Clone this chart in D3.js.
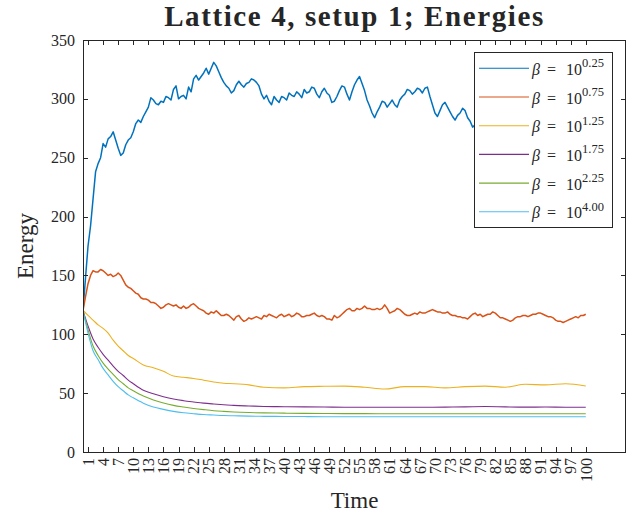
<!DOCTYPE html>
<html>
<head>
<meta charset="utf-8">
<script src="https://cdn.jsdelivr.net/npm/d3@7"></script>
<style>
  body { margin: 0; background: #fff; }
  text { font-family: "Liberation Serif", serif; fill: #262626; }
</style>
</head>
<body>
<svg class="svg1" width="639" height="514"></svg>
<script>
// tick labels
const xTicks = [1, 4, 7, 10, 13, 16, 19, 22, 25, 28, 31, 34, 37, 40, 43, 46, 49, 52, 55, 58, 61, 64, 67, 70, 73, 76, 79, 82, 85, 88, 91, 94, 97, 100];
const yTicks = [0, 50, 100, 150, 200, 250, 300, 350];

const seriesNames = ["0.25", "0.75", "1.25", "1.75", "2.25", "4.00"];
const colors = ["#0072BD", "#D95319", "#EDB120", "#7E2F8E", "#77AC30", "#4DBEEE"];

// noisy series, read every half time unit (0, 0.5, ... 100)
const timeFull = d3.range(0, 100.5, 0.5);
const beta025 = [
  120, 148, 175, 192, 215, 238, 245, 250, 262, 259, 266, 268, 272, 265, 258, 252, 254, 261, 265, 267,
  272, 279, 282, 280, 285, 289, 293, 301, 299, 296, 295, 298, 297, 302, 301, 299, 308, 311, 300, 302,
  303, 300, 310, 306, 317, 320, 316, 319, 322, 326, 321, 326, 331, 328, 323, 318, 314, 311, 309, 305,
  307, 312, 315, 312, 310, 313, 314, 317, 316, 314, 311, 304, 300, 303, 298, 295, 302, 299, 297, 302,
  301, 299, 305, 303, 302, 306, 304, 301, 308, 305, 306, 310, 309, 304, 301, 306, 309, 305, 303, 297,
  298, 302, 307, 311, 310, 304, 299, 306, 312, 316, 319, 313, 307, 299, 294, 288, 284, 289, 293, 298,
  297, 293, 296, 299, 295, 293, 299, 302, 304, 308, 307, 304, 306, 309, 308, 305, 309, 310, 302, 295,
  288, 285, 290, 295, 297, 293, 289, 285, 282, 286, 288, 292, 290, 284, 281, 276, 278, 282, 280, 277,
  276, 280, 283, 281, 279, 283, 285, 282, 281, 278, 277, 281, 284, 287, 288, 285, 283, 280, 279, 281,
  282, 285, 286, 283, 281, 278, 277, 279, 280, 283, 284, 281, 279, 277, 276, 279, 281, 284, 283, 281,
  280];
const beta075 = [
  120, 132, 143, 150, 154, 153, 153, 155, 154, 152, 150, 151, 149, 150, 152, 150, 146, 142, 140, 139,
  137, 135, 134, 131, 130, 130, 129, 127, 127, 126, 124, 122, 123, 125, 126, 125, 124, 125, 123, 122,
  124, 122, 123, 125, 126, 124, 122, 121, 120, 118, 117, 119, 118, 120, 118, 116, 116, 117, 116, 114,
  112, 115, 116, 113, 111, 112, 114, 113, 114, 115, 114, 113, 116, 115, 117, 116, 115, 114, 116, 117,
  115, 116, 117, 115, 116, 118, 117, 115, 115, 116, 116, 117, 118, 116, 115, 116, 115, 113, 113, 112,
  116, 114, 115, 117, 119, 121, 122, 120, 120, 122, 121, 122, 124, 122, 122, 121, 121, 122, 121, 122,
  125, 122, 118, 119, 120, 122, 121, 119, 117, 116, 116, 117, 118, 117, 119, 118, 118, 119, 120, 121,
  120, 119, 119, 118, 118, 119, 117, 116, 116, 115, 115, 114, 114, 113, 115, 117, 118, 116, 117, 115,
  116, 117, 117, 119, 118, 116, 114, 114, 113, 112, 111, 112, 114, 115, 115, 116, 116, 115, 116, 117,
  117, 118, 118, 117, 116, 115, 115, 114, 112, 111, 111, 110, 111, 112, 113, 114, 115, 114, 116, 116,
  117];

// smoother series
const timeSmooth = [0, 1, 2, 3, 4, 5, 6, 7, 8, 9, 10, 12, 14, 16, 18, 20, 22, 24, 26, 28, 30, 33, 36, 40, 44, 48, 52, 56, 60, 64, 68, 72, 76, 80, 84, 88, 92, 96, 100];
const beta125 = [120.5, 116, 112, 108, 105, 101, 95, 90, 86, 82, 79.5, 74, 71.5, 68.5, 64.5, 63.5, 62.5, 61, 59.5, 58.4,
  58, 57, 55, 54.5, 55.5, 55.8, 56, 55, 53.5, 55.5, 55.5, 54.5, 55.5, 56, 55, 57.5, 57, 58, 56];
const beta175 = [120, 107, 96, 89, 83, 78, 73, 68.5, 65, 61, 58, 52.5, 49.5, 47, 45, 43.6, 42.5, 41.5, 40.8, 40.2,
  39.6, 39.1, 38.7, 38.5, 38.3, 38.2, 38, 38, 38, 38, 38, 38.1, 38.3, 38.6, 38.3, 38.1, 38.2, 38, 38];
const beta225 = [120, 104, 90, 82, 75.5, 70.5, 66, 61.5, 58, 54.5, 52, 47.5, 44.2, 41.6, 39.6, 38.2, 37, 36, 35.1, 34.5,
  34, 33.5, 33.2, 33, 32.8, 32.7, 32.6, 32.6, 32.5, 32.5, 32.5, 32.5, 32.5, 32.5, 32.5, 32.5, 32.5, 32.5, 32.5];
const beta400 = [120, 101, 86, 78.5, 71, 65.5, 60, 55.5, 52, 48.5, 46, 41.5, 38.2, 36.2, 34.5, 33.3, 32.5, 31.8, 31.4, 31,
  30.8, 30.5, 30.3, 30.2, 30.1, 30, 30, 30, 30, 30, 30, 30, 30, 30, 30, 30, 30, 30, 30];

const series = [
  { t: timeFull, v: beta025, smooth: false },
  { t: timeFull, v: beta075, smooth: false },
  { t: timeSmooth, v: beta125, smooth: true },
  { t: timeSmooth, v: beta175, smooth: true },
  { t: timeSmooth, v: beta225, smooth: true },
  { t: timeSmooth, v: beta400, smooth: true }
];

let leftMargin = 83, rightEdge = 626, topMargin = 40, bottomEdge = 452;
const svg = d3.select(".svg1");

const xScale = d3.scaleLinear().domain([0, 108]).range([leftMargin, rightEdge]);
const yScale = d3.scaleLinear().domain([0, 350]).range([bottomEdge, topMargin]);

// lines
svg.append("clipPath").attr("id", "clip").append("rect")
  .attr("x", leftMargin).attr("y", topMargin)
  .attr("width", rightEdge - leftMargin).attr("height", bottomEdge - topMargin);

series.forEach((s, i) => {
  const pts = s.t.map((t, j) => [t, s.v[j]]);
  const line = d3.line()
    .x((d) => xScale(d[0]))
    .y((d) => yScale(d[1]))
    .curve(s.smooth ? d3.curveMonotoneX : d3.curveLinear);
  svg.append("path")
    .datum(pts)
    .attr("clip-path", "url(#clip)")
    .attr("fill", "none")
    .attr("stroke", colors[i])
    .attr("stroke-width", i < 2 ? 1.5 : 1.1)
    .attr("stroke-linejoin", "round")
    .attr("d", line);
});

// axes, ticks inward like matlab
const axisColor = "#262626";
const xAxis = d3.axisBottom(xScale).tickValues(xTicks).tickSizeInner(-5).tickSizeOuter(0).tickPadding(6);
const gx = svg.append("g").attr("transform", `translate(0,${bottomEdge})`).call(xAxis);
gx.selectAll("text")
  .attr("transform", "rotate(-90)")
  .attr("text-anchor", "end")
  .attr("x", -6)
  .attr("y", 0)
  .attr("dy", ".33em")
  .style("font-size", "16px");

svg.append("g").attr("transform", `translate(0,${topMargin})`)
  .call(d3.axisTop(xScale).tickValues(xTicks).tickSizeInner(-5).tickSizeOuter(0).tickFormat(""));

svg.append("g").attr("transform", `translate(${leftMargin},0)`)
  .call(d3.axisLeft(yScale).tickValues(yTicks).tickSizeInner(-5).tickSizeOuter(0).tickPadding(8))
  .selectAll("text").style("font-size", "16px");

svg.append("g").attr("transform", `translate(${rightEdge},0)`)
  .call(d3.axisRight(yScale).tickValues(yTicks).tickSizeInner(-5).tickSizeOuter(0).tickFormat(""));

svg.selectAll(".domain").remove();
svg.selectAll(".tick line").attr("stroke", axisColor).attr("shape-rendering", "crispEdges");
svg.selectAll(".tick text").attr("fill", axisColor).style("font-family", "'Liberation Serif', serif");

svg.append("rect")
  .attr("x", leftMargin + 0.5).attr("y", topMargin + 0.5)
  .attr("width", rightEdge - leftMargin - 1).attr("height", bottomEdge - topMargin)
  .attr("fill", "none").attr("stroke", axisColor).attr("stroke-width", 1)
  .attr("shape-rendering", "crispEdges");

// titles
svg.append("text")
  .attr("x", (leftMargin + rightEdge) / 2).attr("y", 26)
  .attr("text-anchor", "middle")
  .style("font-weight", "bold").style("font-size", "29px").style("letter-spacing", "1.6px")
  .text("Lattice 4, setup 1; Energies");

svg.append("text")
  .attr("x", (leftMargin + rightEdge) / 2).attr("y", 508)
  .attr("text-anchor", "middle")
  .style("font-size", "23px")
  .text("Time");

svg.append("text")
  .attr("transform", "translate(33,246) rotate(-90)")
  .attr("text-anchor", "middle")
  .style("font-size", "23px")
  .text("Energy");

// legend
const lg = svg.append("g");
lg.append("rect")
  .attr("x", 474.5).attr("y", 52.5).attr("width", 138).attr("height", 175)
  .attr("fill", "#fff").attr("stroke", axisColor).attr("stroke-width", 1);

seriesNames.forEach((name, i) => {
  const ry = 68.3 + i * 28.7;
  lg.append("line")
    .attr("x1", 479).attr("x2", 529).attr("y1", ry).attr("y2", ry)
    .attr("stroke", colors[i]).attr("stroke-width", 1.1);
  const t = lg.append("text").attr("y", ry + 6.5).style("font-size", "16px");
  t.append("tspan").attr("x", 532).style("font-style", "italic").text("β");
  t.append("tspan").attr("x", 547).text("=");
  t.append("tspan").attr("x", 566).text("10");
  t.append("tspan").attr("x", 582).attr("dy", -7.5).style("font-size", "12.5px").text(name);
});
</script>
</body>
</html>
